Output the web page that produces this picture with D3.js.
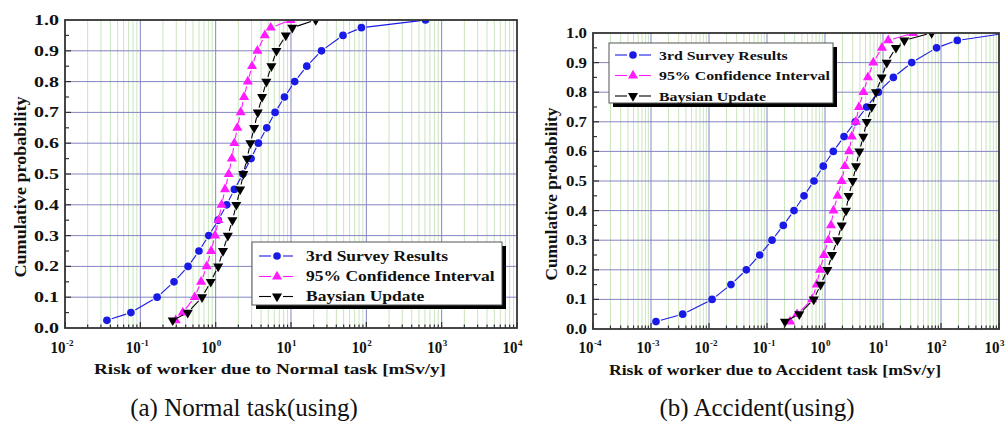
<!DOCTYPE html>
<html>
<head>
<meta charset="utf-8">
<title>Risk of worker CDF</title>
<style>
body { margin: 0; background: #fff; }
svg text { font-family: "Liberation Serif", "Times New Roman", serif; fill: #111; }
.grid-minor { stroke: #c9e5bd; stroke-width: 1; }
.grid-major { stroke: #8585c4; stroke-width: 1; }
.frame { fill: none; stroke: #333; stroke-width: 1.8; }
.tick { stroke: #333; stroke-width: 1.2; }
</style>
</head>
<body>
<script src="https://cdn.jsdelivr.net/npm/d3@7/dist/d3.min.js"></script>
<script>
// cumulative probability levels shared by every series
var probs = [0.025, 0.05, 0.10, 0.15, 0.20, 0.25, 0.30, 0.35, 0.40, 0.45, 0.50,
             0.55, 0.60, 0.65, 0.70, 0.75, 0.80, 0.85, 0.90, 0.95, 0.975, 1.0];

var seriesNames = ["3rd Survey Results", "95% Confidence Interval", "Baysian Update"];

// (a) Normal task [mSv/y]
var normalSurvey = [0.036, 0.075, 0.167, 0.28, 0.43, 0.60, 0.81, 1.08, 1.40, 1.77, 2.3,
                    2.95, 3.69, 4.77, 6.15, 8.2, 11.2, 16.2, 25.4, 49, 86, 610];
var normalCI     = [0.295, 0.366, 0.527, 0.64, 0.76, 0.87, 0.98, 1.09, 1.20, 1.33, 1.49,
                    1.64, 1.77, 1.94, 2.15, 2.38, 2.67, 3.04, 3.58, 4.49, 5.39, 9.9];
var normalBayes  = [0.269, 0.426, 0.659, 0.86, 1.08, 1.25, 1.45, 1.67, 1.88, 2.11, 2.33,
                    2.61, 2.89, 3.24, 3.62, 4.13, 4.71, 5.49, 6.40, 8.53, 10.4, 21.3];

// (b) Accident task [mSv/y]
var accidentSurvey = [0.00122, 0.00352, 0.0113, 0.0239, 0.044, 0.0748, 0.122, 0.191, 0.292, 0.435, 0.646,
                      0.935, 1.39, 2.13, 3.33, 5.23, 8.30, 15.1, 31.3, 84, 191, 1430];
var accidentCI     = [0.25, 0.33, 0.60, 0.72, 0.82, 0.96, 1.14, 1.27, 1.40, 1.65, 1.94,
                      2.2, 2.6, 2.9, 3.4, 3.85, 4.6, 5.5, 6.8, 9.6, 12.3, 33];
var accidentBayes  = [0.204, 0.36, 0.64, 0.84, 1.10, 1.32, 1.63, 1.94, 2.30, 2.55, 3.0,
                      3.42, 3.91, 4.57, 5.23, 6.38, 7.57, 9.5, 11.6, 16.7, 23.3, 69];

var yTicks = [0, 0.1, 0.2, 0.3, 0.4, 0.5, 0.6, 0.7, 0.8, 0.9, 1.0];

var colors = ["#1a1ae6", "#ff1aff", "#000000"];

var svg = d3.select("body").append("svg")
    .attr("width", 1008)
    .attr("height", 428);

// stretch text horizontally like the source figure
function stretch(sel, k) {
  sel.each(function() {
    var len = this.getComputedTextLength();
    d3.select(this).attr("textLength", len * k).attr("lengthAdjust", "spacingAndGlyphs");
  });
}

function marker(g, type, x, y, color) {
  var sym = d3.symbol().type(type === "circle" ? d3.symbolCircle : d3.symbolTriangle)
      .size(type === "circle" ? 46 : 44);
  var p = g.append("path")
      .attr("d", sym())
      .attr("fill", color);
  if (type === "down") p.attr("transform", "translate(" + x + "," + y + ") rotate(180)");
  else p.attr("transform", "translate(" + x + "," + y + ")");
}

function drawPanel(cfg) {
  var x = d3.scaleLog().domain(cfg.domain).range([cfg.left, cfg.right]);
  var y = d3.scaleLinear().domain([0, 1]).range([cfg.bottom, cfg.top]);
  var g = svg.append("g");

  var clipId = "clip" + cfg.id;
  svg.append("clipPath").attr("id", clipId)
    .append("rect")
      .attr("x", cfg.left).attr("y", cfg.top)
      .attr("width", cfg.right - cfg.left).attr("height", cfg.bottom - cfg.top);

  var e0 = Math.round(Math.log10(cfg.domain[0])),
      e1 = Math.round(Math.log10(cfg.domain[1]));
  var decades = d3.range(e0, e1 + 1);
  var minors = [];
  decades.slice(0, -1).forEach(function(e) {
    for (var k = 2; k <= 9; k++) minors.push(k * Math.pow(10, e));
  });

  // grid
  g.selectAll(".gm").data(minors).enter().append("line")
      .attr("class", "grid-minor")
      .attr("x1", function(d) { return x(d); }).attr("x2", function(d) { return x(d); })
      .attr("y1", cfg.top).attr("y2", cfg.bottom);
  g.selectAll(".gv").data(decades.slice(1, -1)).enter().append("line")
      .attr("class", "grid-major")
      .attr("x1", function(d) { return x(Math.pow(10, d)); })
      .attr("x2", function(d) { return x(Math.pow(10, d)); })
      .attr("y1", cfg.top).attr("y2", cfg.bottom);
  g.selectAll(".gh").data(yTicks.slice(1, -1)).enter().append("line")
      .attr("class", "grid-major")
      .attr("x1", cfg.left).attr("x2", cfg.right)
      .attr("y1", function(d) { return y(d); }).attr("y2", function(d) { return y(d); });

  // series
  var plot = g.append("g").attr("clip-path", "url(#" + clipId + ")");
  var types = ["circle", "up", "down"];
  cfg.series.forEach(function(vals, si) {
    var pts = vals.map(function(v, i) { return [x(v), y(probs[i])]; });
    var gap = 5;
    for (var i = 0; i < pts.length - 1; i++) {
      var a = pts[i], b = pts[i + 1];
      var dx = b[0] - a[0], dy = b[1] - a[1], d = Math.sqrt(dx * dx + dy * dy);
      if (d <= 2 * gap) continue;
      var ux = dx / d, uy = dy / d;
      plot.append("line")
          .attr("x1", a[0] + ux * gap).attr("y1", a[1] + uy * gap)
          .attr("x2", b[0] - ux * gap).attr("y2", b[1] - uy * gap)
          .attr("stroke", colors[si])
          .attr("stroke-width", 1.1);
    }
    pts.forEach(function(p) { marker(plot, types[si], p[0], p[1], colors[si]); });
  });

  // frame
  g.append("rect").attr("class", "frame")
      .attr("x", cfg.left).attr("y", cfg.top)
      .attr("width", cfg.right - cfg.left).attr("height", cfg.bottom - cfg.top);

  // ticks pointing inward
  g.selectAll(".tx").data(decades).enter().append("line").attr("class", "tick")
      .attr("x1", function(d) { return x(Math.pow(10, d)); })
      .attr("x2", function(d) { return x(Math.pow(10, d)); })
      .attr("y1", cfg.bottom).attr("y2", cfg.bottom - 6);
  g.selectAll(".txm").data(minors).enter().append("line").attr("class", "tick")
      .attr("x1", function(d) { return x(d); }).attr("x2", function(d) { return x(d); })
      .attr("y1", cfg.bottom).attr("y2", cfg.bottom - 3.5);
  g.selectAll(".ty").data(d3.range(1, 20).map(function(i) { return i * 0.05; })).enter()
    .append("line").attr("class", "tick")
      .attr("x1", cfg.left)
      .attr("x2", function(d, i) { return cfg.left + (i % 2 === 0 ? 4 : 6); })
      .attr("y1", function(d) { return y(d); }).attr("y2", function(d) { return y(d); });

  // y tick labels
  g.selectAll(".yl").data(yTicks).enter().append("text")
      .attr("x", cfg.left - 6)
      .attr("y", function(d) { return y(d); })
      .attr("dy", "0.35em")
      .attr("text-anchor", "end")
      .style("font-size", "14.5px").style("font-weight", "bold")
      .attr("textLength", cfg.ylabW).attr("lengthAdjust", "spacingAndGlyphs")
      .text(function(d) { return d.toFixed(1); });

  // x tick labels 10^n
  decades.forEach(function(e) {
    var tx = x(Math.pow(10, e));
    g.append("text")
        .attr("x", tx + 0.5).attr("y", 353)
        .attr("text-anchor", "end")
        .style("font-size", "16px").style("font-weight", "bold")
        .attr("textLength", 15).attr("lengthAdjust", "spacingAndGlyphs")
        .text("10");
    g.append("text")
        .attr("x", tx + 1).attr("y", 345.5)
        .style("font-size", "9px").style("font-weight", "bold")
        .text(e);
  });

  // axis titles
  g.append("text")
      .attr("transform", "translate(" + cfg.ytitleX + "," + cfg.ytitleY + ") rotate(-90)")
      .attr("dy", "0.35em")
      .attr("text-anchor", "middle")
      .style("font-size", "17px").style("font-weight", "bold")
      .attr("textLength", cfg.ytitleLen).attr("lengthAdjust", "spacingAndGlyphs")
      .text("Cumulative probability");
  g.append("text")
      .attr("x", cfg.xtitleX).attr("y", cfg.xtitleY)
      .attr("text-anchor", "middle")
      .style("font-size", "15px").style("font-weight", "bold")
      .attr("textLength", cfg.xtitleLen).attr("lengthAdjust", "spacingAndGlyphs")
      .text(cfg.xtitle);

  // legend
  var L = cfg.legend;
  g.append("rect")
      .attr("x", L.x + 4).attr("y", L.y + 4)
      .attr("width", L.w).attr("height", L.h)
      .attr("fill", "#000");
  g.append("rect")
      .attr("x", L.x).attr("y", L.y)
      .attr("width", L.w).attr("height", L.h)
      .attr("fill", "#fff").attr("stroke", "#555").attr("stroke-width", 1);
  seriesNames.forEach(function(name, i) {
    var ry = L.rows[i];
    g.append("line")
        .attr("x1", L.lx0).attr("x2", L.mx - 6).attr("y1", ry).attr("y2", ry)
        .attr("stroke", colors[i]).attr("stroke-width", 1.1);
    g.append("line")
        .attr("x1", L.mx + 6).attr("x2", L.lx1).attr("y1", ry).attr("y2", ry)
        .attr("stroke", colors[i]).attr("stroke-width", 1.1);
    marker(g, types[i], L.mx, ry, colors[i]);
    g.append("text")
        .attr("x", L.tx).attr("y", ry)
        .attr("dy", "0.35em")
        .style("font-size", L.fs + "px").style("font-weight", "bold")
        .text(name)
        .call(stretch, L.k);
  });

  // caption
  svg.append("text")
      .attr("x", cfg.capX).attr("y", 416)
      .attr("text-anchor", "middle")
      .style("font-size", "25px")
      .text(cfg.caption);
}

drawPanel({
  id: "a",
  domain: [1e-2, 1e4],
  left: 65, right: 517, top: 20, bottom: 328,
  series: [normalSurvey, normalCI, normalBayes],
  ylabW: 25,
  ytitleX: 20, ytitleY: 187, ytitleLen: 181,
  xtitle: "Risk of worker due to Normal task [mSv/y]",
  xtitleX: 270, xtitleY: 374, xtitleLen: 352,
  legend: { x: 252, y: 242, w: 250, h: 63, rows: [256, 276.5, 296.5],
            lx0: 259, lx1: 293, mx: 277, tx: 306, fs: 14, k: 1.25 },
  caption: "(a) Normal task(using)", capX: 244
});

drawPanel({
  id: "b",
  domain: [1e-4, 1e3],
  left: 593, right: 999, top: 33, bottom: 329,
  series: [accidentSurvey, accidentCI, accidentBayes],
  ylabW: 21,
  ytitleX: 551, ytitleY: 194, ytitleLen: 173,
  xtitle: "Risk of worker due to Accident task [mSv/y]",
  xtitleX: 775, xtitleY: 375, xtitleLen: 332,
  legend: { x: 609, y: 43, w: 224, h: 60, rows: [55, 75.5, 96],
            lx0: 615, lx1: 651, mx: 633, tx: 659, fs: 13, k: 1.22 },
  caption: "(b) Accident(using)", capX: 757
});
</script>
</body>
</html>
